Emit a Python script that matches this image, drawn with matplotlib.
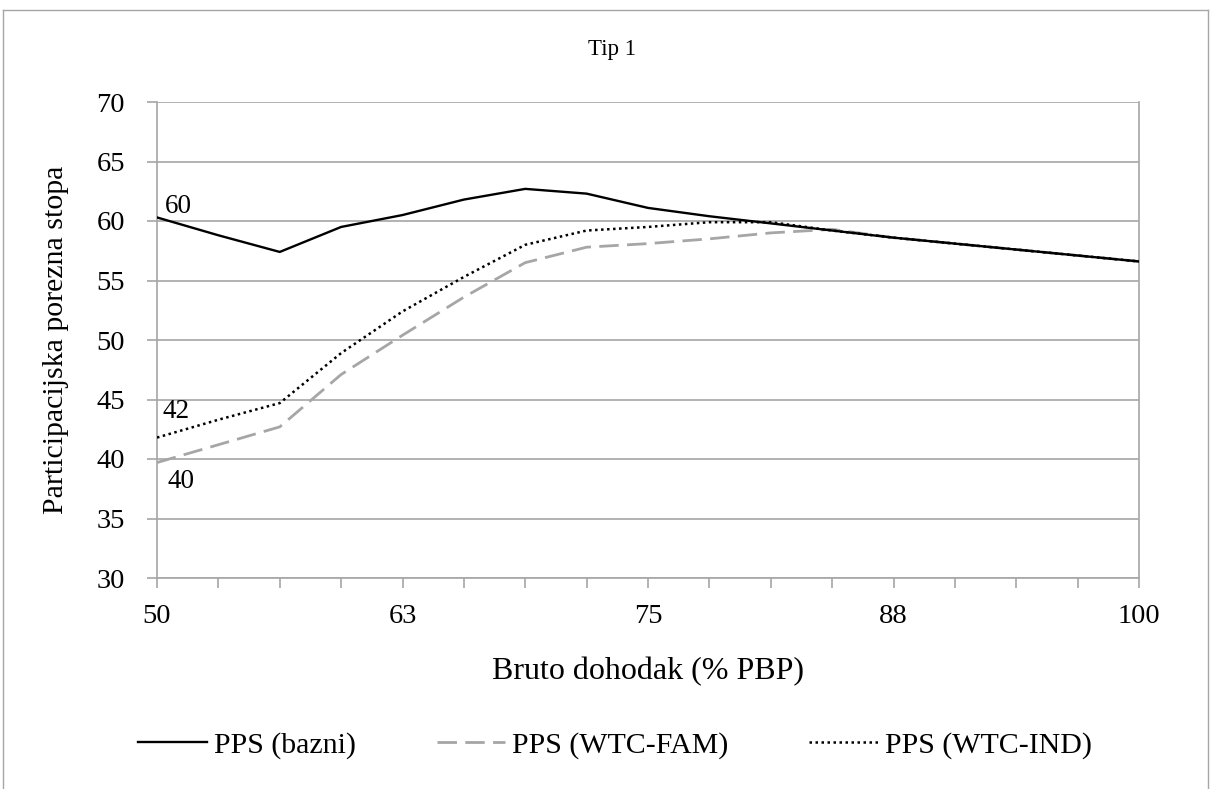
import matplotlib
matplotlib.use('Agg')
import matplotlib.pyplot as plt
from matplotlib.lines import Line2D
import numpy as np

# bruto dohodak (% PBP), 17 categories, every 4th labelled
categories = ['50', '53', '56', '59', '63', '66', '69', '72', '75',
              '78', '81', '84', '88', '91', '94', '97', '100']
shown_labels = ['50', '63', '75', '88', '100']

pps_bazni = [60.3, 58.8, 57.4, 59.5, 60.5, 61.8, 62.7, 62.3, 61.1,
             60.4, 59.8, 59.2, 58.6, 58.1, 57.6, 57.1, 56.6]
pps_fam = [39.7, 41.2, 42.7, 47.1, 50.4, 53.6, 56.5, 57.8, 58.1,
           58.5, 59.0, 59.3, 58.6, 58.1, 57.6, 57.1, 56.6]
pps_ind = [41.8, 43.3, 44.7, 48.9, 52.4, 55.3, 58.0, 59.2, 59.5,
           59.9, 59.9, 59.2, 58.6, 58.1, 57.6, 57.1, 56.6]

plt.rcParams['font.family'] = ['Liberation Serif', 'DejaVu Serif']

W, H = 1212, 789
fig = plt.figure(figsize=(W / 100, H / 100), dpi=100)
ax = fig.add_axes([157 / W, 1 - 578 / H, (1139 - 157) / W, (578 - 102) / H])

x = np.arange(len(categories))
grid_c = '#A6A6A6'

ax.plot(x, pps_bazni, color='black', lw=1.7, label='PPS (bazni)', zorder=3)
ax.plot(x, pps_fam, color='#A6A6A6', lw=2.0, dashes=(7, 3), label='PPS (WTC-FAM)', zorder=2)
ax.plot(x, pps_ind, color='black', lw=1.8, linestyle=(0, (1, 1.4)), label='PPS (WTC-IND)', zorder=4)

ax.set_xlim(0, len(categories) - 1)
ax.set_ylim(30, 70)
ax.set_yticks(range(30, 71, 5))
ax.set_xticks(x, minor=True)
ax.set_xticks([categories.index(c) for c in shown_labels])
ax.set_xticklabels(shown_labels)
ax.yaxis.grid(True, color=grid_c, lw=1.2)
ax.set_axisbelow(True)

ax.spines['top'].set_visible(False)
for s in ['left', 'bottom', 'right']:
    ax.spines[s].set_color(grid_c)
    ax.spines[s].set_linewidth(1.2)

ax.tick_params(axis='x', which='both', length=7, width=1.2, color=grid_c, direction='out',
               labelsize=20.5, pad=12)
ax.tick_params(axis='y', length=7, width=1.2, color=grid_c, labelsize=20.5, pad=16)

ax.set_xlabel('Bruto dohodak (% PBP)', fontsize=23, labelpad=20)
ax.set_ylabel('Participacijska porezna stopa', fontsize=21.5, labelpad=20)
fig.text(612 / W, 1 - 50 / H, 'Tip 1', ha='center', va='center', fontsize=16.5)

# data labels on the first points
ax.annotate('60', (0, pps_bazni[0]), xytext=(15.5, 8), textcoords='offset points',
            ha='center', va='center', fontsize=19.5)
ax.annotate('42', (0, pps_ind[0]), xytext=(14, 19), textcoords='offset points',
            ha='center', va='center', fontsize=19.5)
ax.annotate('40', (0, pps_fam[0]), xytext=(17, -13.5), textcoords='offset points',
            ha='center', va='center', fontsize=19.5)

handles, labels = ax.get_legend_handles_labels()
fig.legend(handles, labels, loc='center', bbox_to_anchor=(615 / W, 1 - 745 / H), ncol=3,
           frameon=False, fontsize=21.5, handlelength=2.3, columnspacing=2.7,
           handletextpad=0.23, borderaxespad=0, borderpad=0)

# outer chart border
for xs, ys in [([3, 1208], [10, 10]), ([3, 3], [10, H]), ([1208, 1208], [10, H])]:
    fig.add_artist(Line2D([v / W for v in xs], [1 - v / H for v in ys], color=grid_c, lw=1.0))

fig.savefig('out.png', dpi=100)
